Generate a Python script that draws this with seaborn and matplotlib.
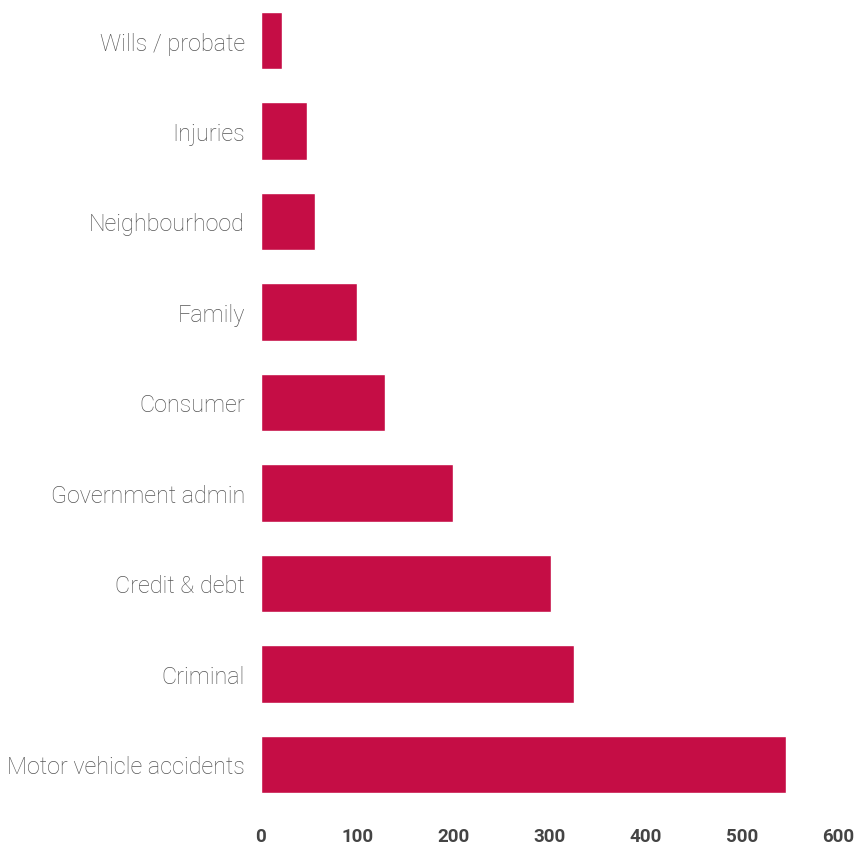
import matplotlib
matplotlib.use("Agg")
import matplotlib.pyplot as plt
import seaborn as sns
import pandas as pd

categories = ["Wills / probate", "Injuries", "Neighbourhood", "Family", "Consumer",
              "Government admin", "Credit & debt", "Criminal", "Motor vehicle accidents"]
values = [22, 48, 56, 100, 129, 200, 302, 325, 546]
x_ticks = [0, 100, 200, 300, 400, 500, 600]

sns.set_style("white")
plt.rcParams['font.family'] = ['Roboto', 'DejaVu Sans']

df = pd.DataFrame({"category": categories, "value": values})

fig = plt.figure(figsize=(8.59, 8.45), dpi=100)
ax = fig.add_axes([261/859, 1 - 801.7/845, (838-261)/859, (801.7-5.3)/845])

sns.barplot(data=df, x="value", y="category", color="#C50D45", width=0.63,
            saturation=1, ax=ax, order=categories)

ax.set_xlim(0, 600)
ax.set_ylim(8.4, -0.4)
ax.set_xticks(x_ticks)
ax.set_xticklabels([str(t) for t in x_ticks], fontsize=13.5, fontweight='bold', color='#444444')
for lbl in ax.get_yticklabels():
    lbl.set_fontsize(16.8)
    lbl.set_fontweight('light')
    lbl.set_color('#555555')
ax.tick_params(axis='x', length=0, pad=19)
ax.tick_params(axis='y', length=0, pad=11.5)
ax.set_xlabel("")
ax.set_ylabel("")
sns.despine(ax=ax, left=True, bottom=True)

fig.savefig("out.png", dpi=100)
